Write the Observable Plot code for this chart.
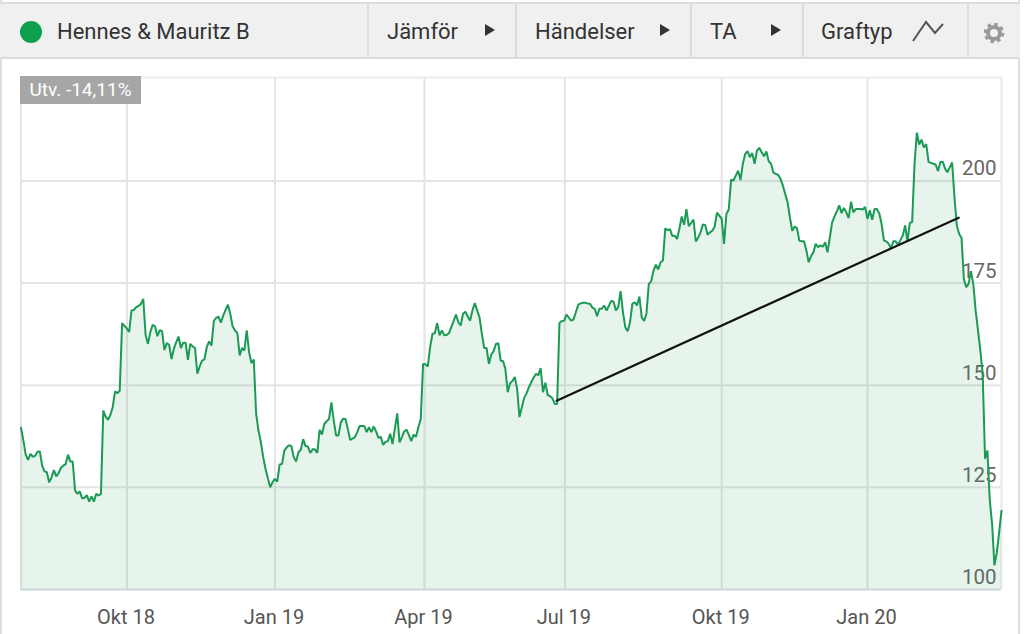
<!DOCTYPE html>
<html><head><meta charset="utf-8">
<script src="https://cdn.jsdelivr.net/npm/d3@7"></script>
<script src="https://cdn.jsdelivr.net/npm/@observablehq/plot@0.6"></script>
<style>
html,body{margin:0;padding:0;background:#fff;width:1024px;height:634px;overflow:hidden;font-family:Roboto,sans-serif}
#frame{position:absolute;left:0;top:0;width:1020px;height:634px;border-left:2px solid #dedede;border-right:2px solid #dedede;box-sizing:border-box}
#head{position:absolute;left:0;top:2px;width:1020px;height:57px;background:#f0f0f0;border-top:2px solid #dcdcdc;border-bottom:2px solid #dcdcdc;box-sizing:border-box}
.t{position:absolute;top:15px;font-size:22px;line-height:26px;color:#333;white-space:nowrap}
.d{position:absolute;top:0;width:2px;height:53px;background:#dcdcdc}
.a{position:absolute;top:20px;width:0;height:0;border-left:10px solid #333;border-top:6px solid transparent;border-bottom:6px solid transparent}
#dot{position:absolute;left:20px;top:17px;width:22px;height:22px;border-radius:50%;background:#0da04a}
#badge{position:absolute;left:20px;top:76px;width:121px;height:28px;line-height:28px;background:#a6a6a6;color:#fff;font-size:19px;text-align:center}
#chart{position:absolute;left:0;top:58px}
.ic{position:absolute}
</style></head><body>
<div id="chart"></div>
<div id="frame"></div>
<div id="head">
<div id="dot"></div><div class="t" style="left:57px">Hennes &amp; Mauritz B</div>
<div class="d" style="left:367px"></div><div class="t" style="left:387px">Jämför</div><div class="a" style="left:485px"></div>
<div class="d" style="left:515px"></div><div class="t" style="left:535px">Händelser</div><div class="a" style="left:660px"></div>
<div class="d" style="left:690px"></div><div class="t" style="left:710px">TA</div><div class="a" style="left:771px"></div>
<div class="d" style="left:802px"></div><div class="t" style="left:821px">Graftyp</div>
<svg class="ic" style="left:911px;top:14px" width="34" height="26"><polyline points="2,23 15,4 24,15 32,6" fill="none" stroke="#555" stroke-width="2"/></svg>
<div class="d" style="left:967px"></div>
<svg class="ic" style="left:982px;top:17px" width="24" height="24"><circle cx="12" cy="12" r="8.6" fill="none" stroke="#9a9a9a" stroke-width="3.4" stroke-dasharray="3.4 3.35"/><circle cx="12" cy="12" r="6" fill="none" stroke="#9a9a9a" stroke-width="4"/></svg>
</div>
<div id="badge">Utv. -14,11%</div>
<script>
// Closing price per trading session
const closes = [
139.6,136.5,133.0,131.7,133.2,132.5,132.7,133.7,133.8,130.3,
128.9,128.7,126.2,127.5,129.2,127.7,128.5,129.8,130.3,130.7,
133.0,131.3,131.3,124.2,123.4,124.0,122.3,122.4,123.1,121.5,
122.8,121.5,123.4,123.0,123.4,143.8,142.3,141.5,142.7,144.6,
148.5,148.0,148.7,165.2,164.5,163.9,163.0,168.3,168.4,169.1,
169.4,169.9,171.1,162.2,160.1,163.0,164.8,164.4,162.0,163.5,
163.2,158.6,160.3,159.9,156.4,158.9,160.5,161.9,159.1,160.4,
160.4,156.2,160.1,159.5,159.1,152.8,154.6,156.0,156.3,159.3,
160.7,159.7,165.7,166.5,166.8,165.3,167.0,168.4,169.7,167.5,
164.4,163.4,162.8,157.3,159.1,158.5,163.4,158.1,155.4,156.3,
143.0,138.9,136.1,132.4,129.5,127.2,125.0,126.3,127.1,126.4,
130.6,130.7,134.0,134.8,135.3,135.1,132.4,131.3,133.6,134.2,
136.8,135.1,135.0,133.4,134.3,134.3,133.4,139.1,137.9,140.5,
141.2,141.7,145.8,141.4,137.7,137.7,140.9,141.8,141.7,139.3,
136.6,136.9,137.3,138.5,140.0,140.0,140.0,138.5,139.7,138.5,
139.9,138.7,137.1,137.4,135.4,136.1,136.3,138.1,135.6,139.3,
143.1,136.0,137.3,138.7,139.1,137.7,136.3,137.9,137.4,139.7,
141.7,155.2,155.1,154.6,159.3,162.6,162.7,165.2,162.2,163.4,
162.2,162.3,162.7,164.2,165.7,167.3,165.4,164.6,167.5,168.0,
166.8,165.8,168.3,170.1,168.3,166.6,162.6,159.1,159.1,155.2,
157.5,158.3,160.1,160.3,156.0,155.9,154.0,148.3,150.5,151.0,
152.0,149.1,142.2,144.6,146.9,148.0,149.5,150.7,151.8,152.8,
152.4,154.2,148.3,150.6,147.6,147.3,146.8,145.4,145.4,165.2,
165.7,165.8,167.3,166.5,165.8,166.1,167.9,169.7,170.0,170.2,
170.2,170.0,169.9,169.0,168.7,166.9,168.7,168.7,169.5,168.3,
169.4,170.6,170.5,168.3,169.1,173.0,167.9,164.2,163.2,165.4,
169.9,170.3,169.5,171.7,166.6,165.7,167.5,174.8,175.4,178.0,
179.5,178.3,180.1,180.5,188.4,187.9,188.2,186.5,186.6,185.8,
188.3,191.3,189.3,193.1,188.9,189.7,190.5,185.2,186.1,187.4,
189.3,189.2,186.8,187.4,187.8,188.8,192.2,191.5,190.7,184.6,
191.9,193.0,200.3,200.1,201.3,202.5,200.2,204.2,206.6,207.3,
205.8,206.8,204.2,207.4,208.1,207.0,206.0,207.2,204.8,204.2,
202.0,201.7,201.5,200.5,198.9,196.8,194.8,191.1,187.8,188.8,
188.5,185.4,185.2,185.2,183.0,180.1,181.6,182.5,184.6,183.8,
184.2,183.9,185.0,182.5,186.2,189.9,191.3,192.6,194.0,192.1,
193.4,192.3,190.9,194.9,192.3,193.1,193.1,193.1,193.0,193.6,
190.7,192.8,190.5,193.1,193.1,192.1,189.5,185.4,185.2,184.6,
183.5,185.2,185.2,184.4,185.5,186.6,189.1,185.2,189.7,189.9,
204.0,211.8,208.9,210.1,208.2,209.0,204.6,204.4,204.2,204.0,
202.4,204.6,204.7,203.0,202.1,203.3,204.5,196.0,189.0,187.0,
186.0,176.0,174.0,174.8,177.9,174.8,168.3,163.5,158.5,152.8,
132.0,134.0,122.0,116.0,105.9,109.0,114.0,119.3
];
const tickSessions = [45.1, 108, 171.6, 231.3, 298, 360];
const tickLabels = ["Okt 18", "Jan 19", "Apr 19", "Jul 19", "Okt 19", "Jan 20"];
const priceTicks = [100, 125, 150, 175, 200];
const trendSessions = [227.8, 398.8];
const trendPrices = [146.2, 191];

const sessions = closes.map((_, i) => i);
const trend = trendSessions.map((s, i) => ({s, p: trendPrices[i]}));
const label = new Map(tickSessions.map((s, i) => [s, tickLabels[i]]));

const plot = Plot.plot({
  width: 1024, height: 576,
  marginLeft: 20.5, marginRight: 23, marginTop: 19, marginBottom: 45,
  style: {background: "transparent", fontFamily: "Roboto, sans-serif"},
  x: {domain: [0, 417], axis: null},
  y: {domain: [100, 225.3], axis: null},
  marks: [
    Plot.ruleX(tickSessions, {stroke: "#e4e4e4", strokeWidth: 2}),
    Plot.ruleY(priceTicks.slice(1), {stroke: "#e4e4e4", strokeWidth: 2}),
    Plot.ruleX([417], {stroke: "#e8e8e8", strokeWidth: 2}),
    Plot.ruleY([225.3], {stroke: "#ececec", strokeWidth: 2}),
    Plot.ruleX([0], {stroke: "#e4e4e4", strokeWidth: 2}),
    Plot.axisX(tickSessions, {anchor: "bottom", label: null, tickSize: 0, tickPadding: 20, dx: -1, fontSize: 20, fill: "#555",
      tickFormat: d => label.get(d)}),
    Plot.axisY(priceTicks, {anchor: "right", label: null, tickSize: 0, tickPadding: -5, textAnchor: "end", dy: -12, fontSize: 20.5, fill: "#666"}),
    Plot.areaY(sessions, {x: d => d, y: d => closes[d], y1: 100, fill: "#1a9850", fillOpacity: 0.11}),
    Plot.ruleY([100], {stroke: "#c9d8d6", strokeWidth: 2}),
    Plot.lineY(sessions, {x: d => d, y: d => closes[d], stroke: "#1b9a55", strokeWidth: 2, strokeLinejoin: "miter"}),
    Plot.line(trend, {x: "s", y: "p", stroke: "#111", strokeWidth: 2.2})
  ]
});
document.getElementById("chart").appendChild(plot);
</script>
</body></html>
